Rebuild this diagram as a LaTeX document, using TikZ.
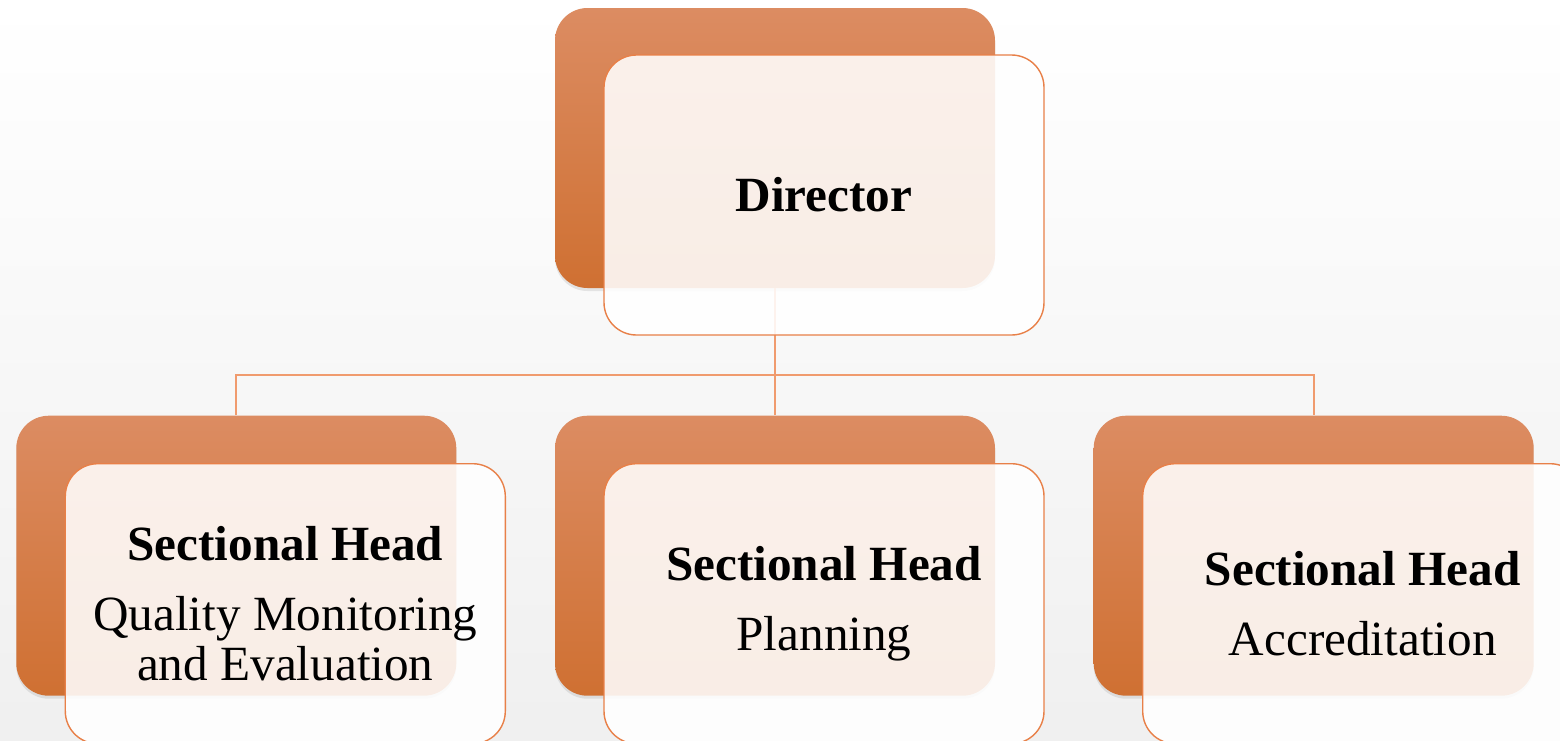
\documentclass[tikz,border=0pt]{standalone}
\usepackage{fontspec}
\setmainfont{Liberation Serif}
\usepackage{tikz}
\usetikzlibrary{positioning, calc, shadows}
\definecolor{rust}{RGB}{207,112,50}
\definecolor{peach}{RGB}{220,140,98}
\definecolor{edgeorange}{RGB}{232,128,72}
\definecolor{linkorange}{RGB}{240,155,110}
\tikzset{backbox/.style={
          rectangle,
          rounded corners=0.65cm,
          minimum width=8.8cm,
          minimum height=5.6cm,
          top color=peach,
          bottom color=rust,
          drop shadow={opacity=0.18, shadow xshift=0pt, shadow yshift=-0.06cm}
     }}
\tikzset{frontbox/.style={
          draw=edgeorange,
          line width=0.8pt,
          rectangle,
          rounded corners=0.65cm,
          minimum width=8.8cm,
          minimum height=5.6cm,
          fill=white,
          fill opacity=0.88,
          text opacity=1,
          inner sep=0pt,
          align=center,
          font=\fontsize{28}{28.5}\selectfont
     }}
\tikzstyle{link} = [linkorange, line width=1.1pt]
\newcommand{\shead}{\textbf{Sectional Head}\\[11.3pt]}

\begin{document}
\begin{tikzpicture}
% page background
\fill [top color=white, bottom color=black!6] (0,0) rectangle (31.2,-14.8);
\useasboundingbox (0,0) rectangle (31.2,-14.8);

\node (dirback) [backbox] at (15.5,-2.96) {};
\node (planback) [backbox, below=2.54cm of dirback] {};
\node (qmeback) [backbox, left=1.96cm of planback] {};
\node (accback) [backbox, right=1.96cm of planback] {};

\coordinate (branch) at ($(dirback.south)+(0,-1.74)$);
\draw [link] (dirback.south) -- (branch) -- (planback.north);
\draw [link] (qmeback.north) |- (branch) -| (accback.north);

\node (dirfront) [frontbox] at ($(dirback)+(0.98,-0.94)$) {\textbf{Director}};
\node (qmefront) [frontbox] at ($(qmeback)+(0.98,-0.96)$) {\shead Quality Monitoring\\ and Evaluation};
\node (planfront) [frontbox] at ($(planback)+(0.98,-0.96)$) {\shead Planning};
\node (accfront) [frontbox] at ($(accback)+(0.98,-0.96)$) {\shead Accreditation};
\end{tikzpicture}
\end{document}
